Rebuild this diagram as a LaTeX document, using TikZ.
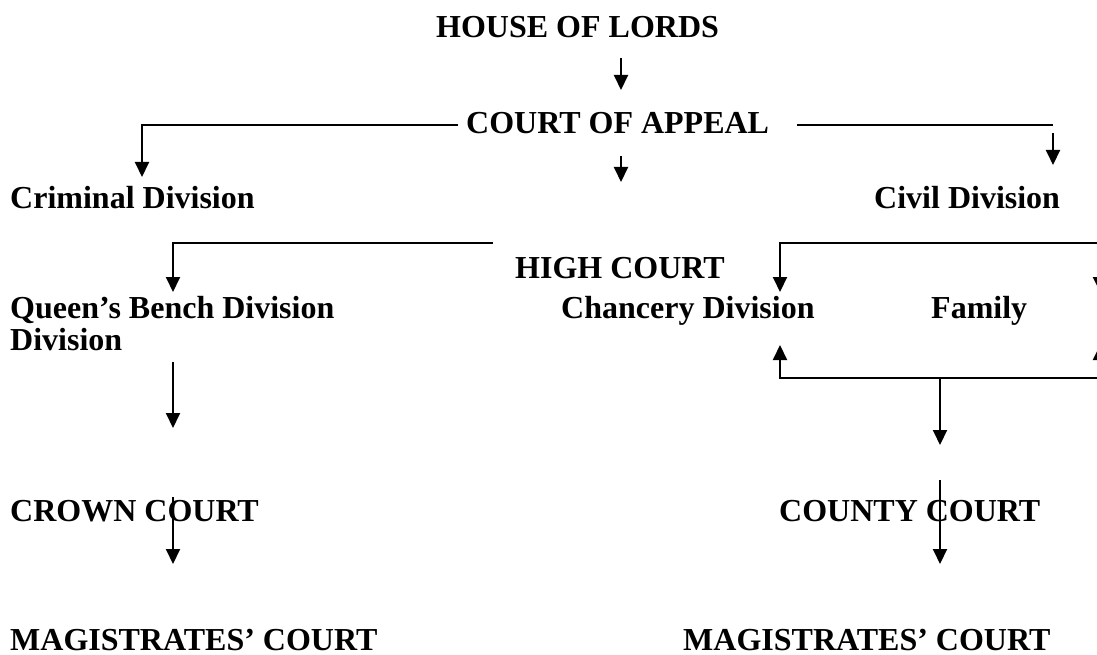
\documentclass[tikz,border=0pt]{standalone}
\usepackage{fontspec}
\setmainfont{Liberation Serif}
\usetikzlibrary{arrows.meta}
\begin{document}
\begin{tikzpicture}[x=1pt,y=-1pt,
  lbl/.style={anchor=base west,inner sep=0pt,font=\fontsize{32}{36}\selectfont\bfseries},
  conn/.style={line width=2pt},
  arr/.style={line width=2pt,-{Triangle[width=14pt,length=15pt]}}]
\useasboundingbox (0,0) rectangle (1097,655);
\clip (0,0) rectangle (1097,655);
% labels
\node[lbl] (hol) at (436,38) {HOUSE OF LORDS};
\node[lbl] (coa) at (466,134) {COURT OF APPEAL};
\node[lbl] (crim) at (10,208) {Criminal Division};
\node[lbl] (civ) at (874,208) {Civil Division};
\node[lbl] (hc) at (515,278) {HIGH COURT};
\node[lbl] (qb) at (10,318) {Queen’s Bench Division};
\node[lbl] (qb2) at (10,350) {Division};
\node[lbl] (ch) at (561,318) {Chancery Division};
\node[lbl] (fam) at (931,318) {Family};
\node[lbl] (crown) at (10,521) {CROWN COURT};
\node[lbl] (county) at (779,521) {COUNTY COURT};
\node[lbl] (magl) at (10,650) {MAGISTRATES’ COURT};
\node[lbl] (magr) at (683,650) {MAGISTRATES’ COURT};
% connector coordinates
\coordinate (a1s) at (621,58);  \coordinate (a1e) at (621,90);
\coordinate (l1s) at (458,125); \coordinate (l1c) at (142,125); \coordinate (l1e) at (142,177);
\coordinate (r1s) at (797,125); \coordinate (r1e) at (1053,125);
\coordinate (r2s) at (1053,133); \coordinate (r2e) at (1053,165);
\coordinate (m1s) at (621,156); \coordinate (m1e) at (621,182);
\coordinate (h1s) at (493,243); \coordinate (h1c) at (173,243); \coordinate (h1e) at (173,292);
\coordinate (bxr) at (1110,243); \coordinate (bxl) at (780,243); \coordinate (bxle) at (780,292);
\coordinate (bxrs) at (1100,243); \coordinate (bxre) at (1100,292);
\coordinate (bbr) at (1110,378); \coordinate (bbl) at (780,378); \coordinate (bble) at (780,345);
\coordinate (bbrs) at (1100,378); \coordinate (bbre) at (1100,345);
\coordinate (vs) at (940,378); \coordinate (ve) at (940,445);
\coordinate (q1s) at (173,362); \coordinate (q1e) at (173,428);
\coordinate (c1s) at (173,497); \coordinate (c1e) at (173,564);
\coordinate (k1s) at (940,480); \coordinate (k1e) at (940,564);
% connectors
\draw[arr] (a1s) -- (a1e);
\draw[arr] (l1s) -- (l1c) -- (l1e);
\draw[conn] (r1s) -- (r1e);
\draw[arr] (r2s) -- (r2e);
\draw[arr] (m1s) -- (m1e);
\draw[arr] (h1s) -- (h1c) -- (h1e);
\draw[arr] (bxr) -- (bxl) -- (bxle);
\draw[arr] (bxrs) -- (bxre);
\draw[arr] (bbr) -- (bbl) -- (bble);
\draw[arr] (bbrs) -- (bbre);
\draw[arr] (vs) -- (ve);
\draw[arr] (q1s) -- (q1e);
\draw[arr] (c1s) -- (c1e);
\draw[arr] (k1s) -- (k1e);
\end{tikzpicture}
\end{document}
